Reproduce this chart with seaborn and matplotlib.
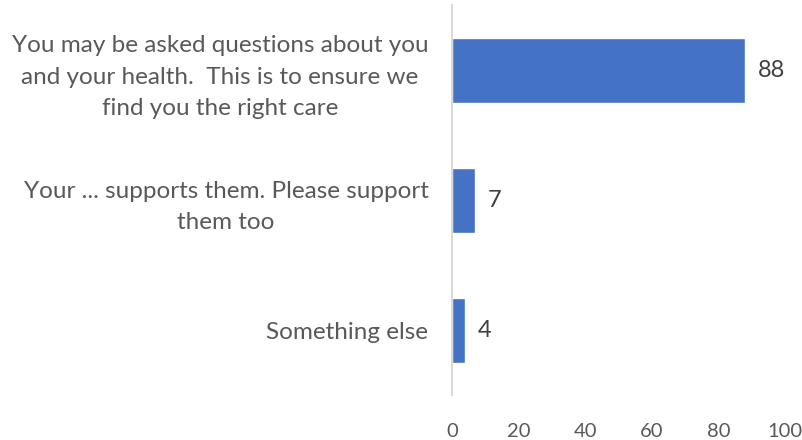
import matplotlib
matplotlib.use("Agg")
import matplotlib.pyplot as plt
import seaborn as sns
import pandas as pd

categories = [
    "You may be asked questions about you\nand your health.  This is to ensure we\nfind you the right care",
    "Your ... supports them. Please support\nthem too",
    "Something else",
]
values = [88, 7, 4]
x_ticks = [0, 20, 40, 60, 80, 100]

sns.set_theme(style="white")
plt.rcParams["font.family"] = ["Lato", "DejaVu Sans"]

df = pd.DataFrame({"category": categories, "value": values})

fig = plt.figure(figsize=(8.03, 4.40), dpi=100)
ax = fig.add_axes([452 / 803, 45 / 440, 333 / 803, 390 / 440])

sns.barplot(data=df, x="value", y="category", orient="h", color="#4472C4",
            width=0.5, saturation=1, ax=ax)

ax.set_xlim(0, 100)
ax.set_xticks(x_ticks)
ax.set_xticklabels([str(t) for t in x_ticks])
ax.set_xlabel("")
ax.set_ylabel("")

for side in ["top", "right", "bottom"]:
    ax.spines[side].set_visible(False)
ax.spines["left"].set_color("#D9D9D9")
ax.spines["left"].set_linewidth(1.5)

ax.tick_params(axis="x", length=0, pad=20, labelsize=14.5, labelcolor="#595959")
ax.tick_params(axis="y", length=0, pad=17, labelsize=17.5, labelcolor="#595959")
for lab in ax.get_yticklabels():
    lab.set_multialignment("center")
    lab.set_linespacing(1.6)

for container in ax.containers:
    ax.bar_label(container, labels=[str(v) for v in values], padding=9,
                 fontsize=17, color="#404040")

fig.savefig("out.png", dpi=100)
